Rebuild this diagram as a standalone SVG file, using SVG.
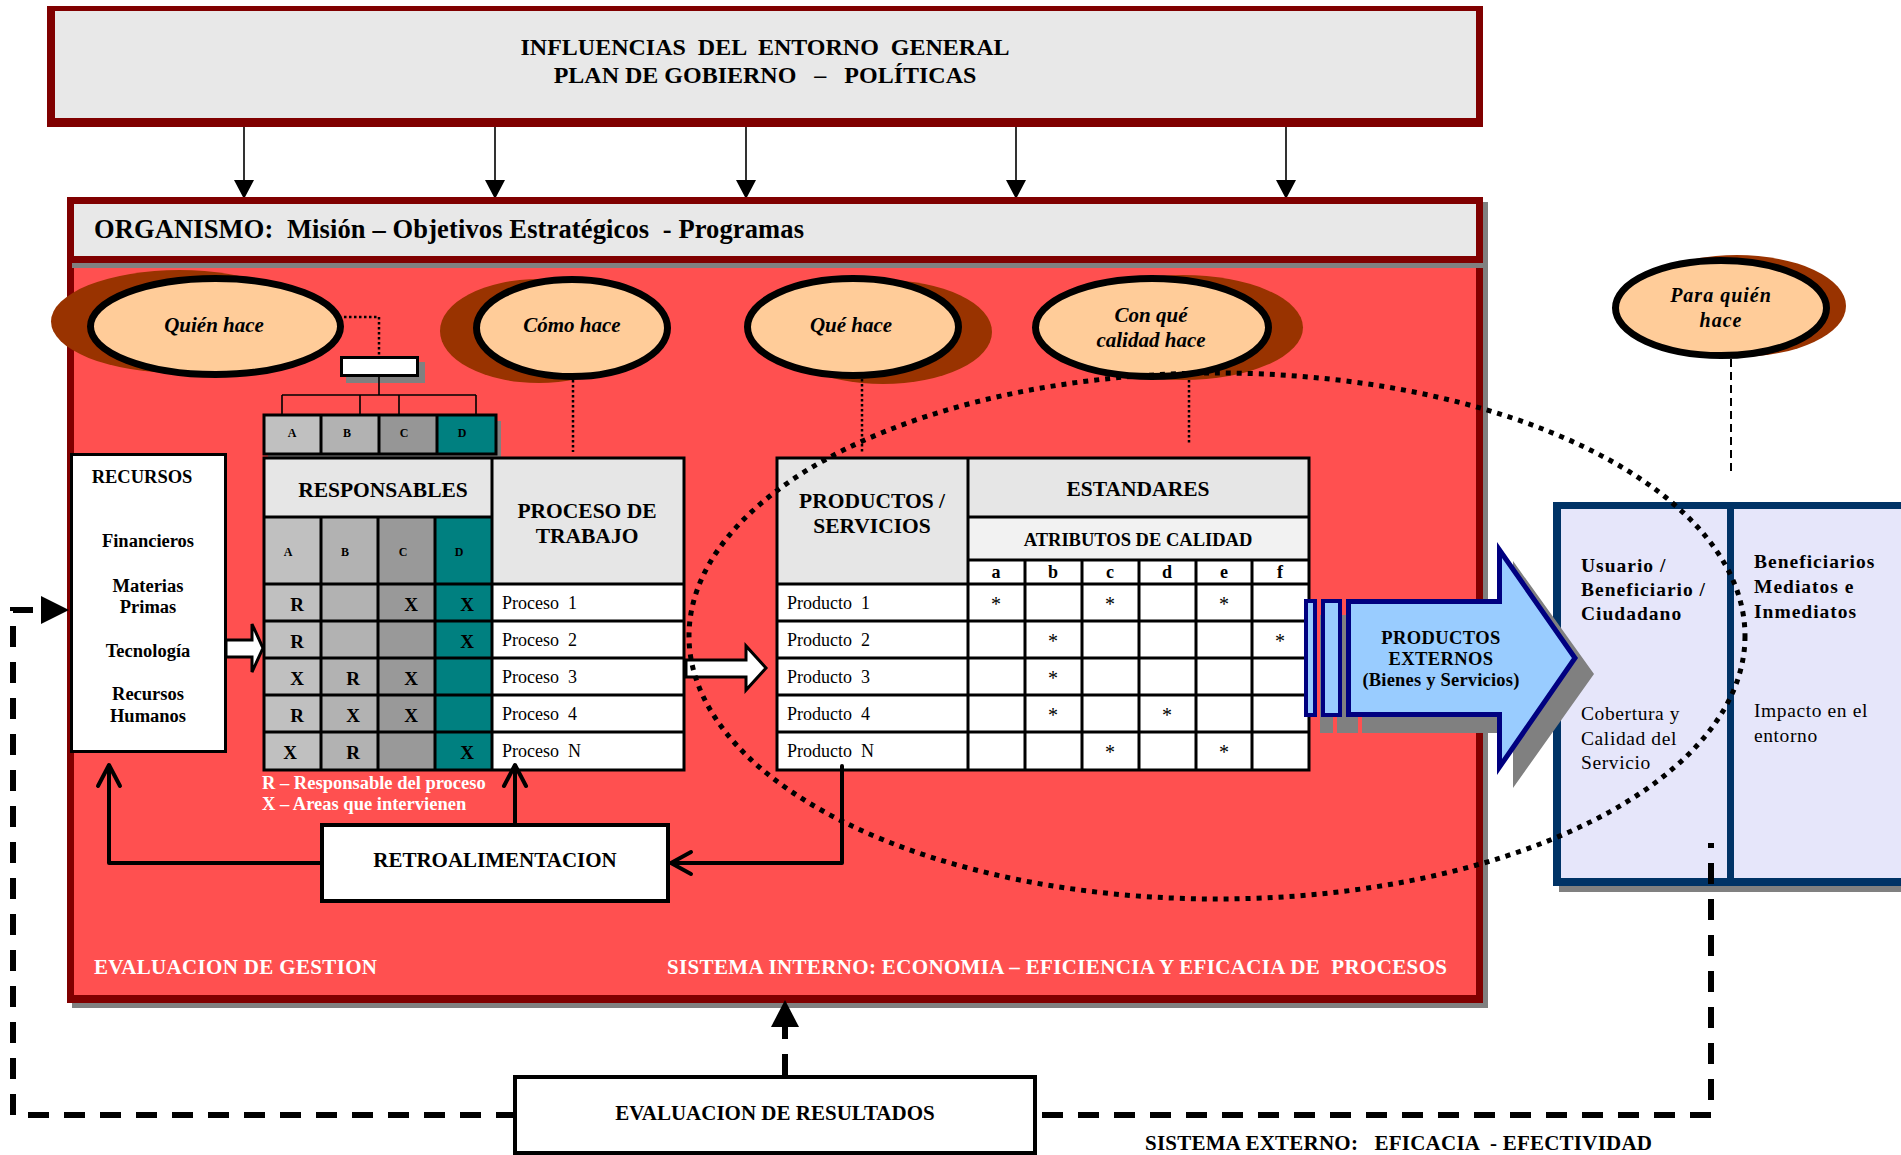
<svg xmlns="http://www.w3.org/2000/svg" width="1901" height="1155" viewBox="0 0 1901 1155">
<style>
  text { font-family: 'Liberation Serif', 'Times New Roman', serif; fill: #000; white-space: pre; }
  .b { font-weight: bold; }
  .bi { font-weight: bold; font-style: italic; }
  .mid { text-anchor: middle; }
  .wh { fill: #FFFFFF; }
  .grid { stroke: #000; stroke-width: 3; fill: none; }
  .thin { stroke: #000; stroke-width: 1.6; fill: none; }
  .dot { stroke: #000; stroke-width: 2.5; stroke-dasharray: 2.5 2.5; fill: none; }
  .fb { stroke: #000; stroke-width: 4; fill: none; stroke-linejoin: round; stroke-linecap: round; }
  .dash { stroke: #000; stroke-width: 6; stroke-dasharray: 21 15; fill: none; }
  .bubble { fill: #FFCC99; stroke: #000; stroke-width: 7; }
  .shade { fill: #993300; }
  .hdr { fill: #E6E6E6; }
  .cell { font-size: 19px; font-weight: bold; text-anchor: middle; }
  .row { font-size: 18px; }
  .star { font-size: 20px; text-anchor: middle; }
</style>

<!-- general environment banner -->
<g id="entorno">
  <rect x="47" y="6" width="1436" height="121" fill="#800000"/>
  <rect x="55" y="11" width="1421" height="107" fill="#E8E8E8"/>
  <text class="b mid" x="765" y="55" font-size="24">INFLUENCIAS  DEL  ENTORNO  GENERAL</text>
  <text class="b mid" x="765" y="83" font-size="24">PLAN DE GOBIERNO   –   POLÍTICAS</text>
</g>

<!-- influence arrows -->
<g id="influencias">
  <path class="thin" d="M244 127V182M495 127V182M746 127V182M1016 127V182M1286 127V182"/>
  <path fill="#000" d="M234 180H254L244 199ZM485 180H505L495 199ZM736 180H756L746 199ZM1006 180H1026L1016 199ZM1276 180H1296L1286 199Z"/>
</g>

<!-- organisation frame -->
<g id="organismo">
  <rect x="72" y="263" width="1416" height="745" fill="#808080"/>
  <rect x="67" y="258" width="1416" height="745" fill="#800000"/>
  <rect x="74" y="268" width="1402" height="727" fill="#FF5050"/>
  <rect x="72" y="202" width="1416" height="66" fill="#808080"/>
  <rect x="67" y="197" width="1416" height="66" fill="#800000"/>
  <rect x="74" y="204" width="1402" height="52" fill="#E8E8E8"/>
  <text class="b" x="94" y="238" font-size="26.5" textLength="710" lengthAdjust="spacing">ORGANISMO:  Misión – Objetivos Estratégicos  - Programas</text>
  <text class="b wh" x="94" y="974" font-size="21" textLength="283" lengthAdjust="spacing">EVALUACION DE GESTION</text>
  <text class="b wh" x="667" y="974" font-size="21" textLength="780" lengthAdjust="spacing">SISTEMA INTERNO: ECONOMIA – EFICIENCIA Y EFICACIA DE  PROCESOS</text>
</g>

<!-- question bubbles -->
<g id="quien-hace">
  <ellipse class="shade" cx="179.5" cy="321.5" rx="128.5" ry="51.5"/>
  <ellipse class="bubble" cx="215.5" cy="326.5" rx="125" ry="48"/>
  <text class="bi mid" x="214" y="332" font-size="21">Quién hace</text>
</g>
<g id="como-hace">
  <ellipse class="shade" cx="539" cy="331" rx="99" ry="52"/>
  <ellipse class="bubble" cx="572" cy="328" rx="95.5" ry="48.5"/>
  <text class="bi mid" x="572" y="332" font-size="21">Cómo hace</text>
</g>
<g id="que-hace">
  <ellipse class="shade" cx="883" cy="332" rx="109" ry="52"/>
  <ellipse class="bubble" cx="853" cy="327" rx="105.5" ry="48.5"/>
  <text class="bi mid" x="851" y="332" font-size="21">Qué hace</text>
</g>
<g id="con-que-calidad">
  <ellipse class="shade" cx="1183" cy="327.5" rx="120" ry="52.5"/>
  <ellipse class="bubble" cx="1152" cy="327.5" rx="116.5" ry="49"/>
  <text class="bi mid" x="1151" y="322" font-size="21">Con qué</text>
  <text class="bi mid" x="1151" y="347" font-size="21">calidad hace</text>
</g>
<g id="para-quien">
  <ellipse class="shade" cx="1737" cy="306" rx="109" ry="51"/>
  <ellipse class="bubble" cx="1721" cy="308" rx="105.5" ry="47.5"/>
  <text class="bi mid" x="1721" y="302" font-size="20" letter-spacing="1">Para quién</text>
  <text class="bi mid" x="1721" y="327" font-size="20" letter-spacing="1">hace</text>
</g>

<!-- organisation chart -->
<g id="organigrama">
  <rect x="346" y="362" width="79" height="21" fill="#808080"/>
  <rect x="341.5" y="357.5" width="76" height="18" fill="#FFFFFF" stroke="#000" stroke-width="3"/>
  <path class="thin" stroke-width="2" d="M379 377V395M282 395H476M282 395V415M360 395V415M399 395V415M476 395V415"/>
  <rect x="268" y="421" width="233" height="39" fill="#808080"/>
  <rect x="264" y="415" width="57" height="39" fill="#C0C0C0"/>
  <rect x="321" y="415" width="58" height="39" fill="#B2B2B2"/>
  <rect x="379" y="415" width="58" height="39" fill="#969696"/>
  <rect x="437" y="415" width="59" height="39" fill="#008080"/>
  <path class="grid" stroke-width="2" d="M264 415H496V454H264ZM321 415V454M379 415V454M437 415V454"/>
  <text class="b mid" x="292" y="437" font-size="12">A</text>
  <text class="b mid" x="347" y="437" font-size="12">B</text>
  <text class="b mid" x="404" y="437" font-size="12">C</text>
  <text class="b mid" x="462" y="437" font-size="12">D</text>
</g>

<!-- resources -->
<g id="recursos">
  <rect x="71.5" y="454.5" width="154" height="297" fill="#FFFFFF" stroke="#000" stroke-width="3"/>
  <text class="b mid" x="142" y="483" font-size="18.5">RECURSOS</text>
  <text class="b mid" x="148" y="547" font-size="18.5">Financieros</text>
  <text class="b mid" x="148" y="592" font-size="18.5">Materias</text>
  <text class="b mid" x="148" y="613" font-size="18.5">Primas</text>
  <text class="b mid" x="148" y="657" font-size="18.5">Tecnología</text>
  <text class="b mid" x="148" y="700" font-size="18.5">Recursos</text>
  <text class="b mid" x="148" y="722" font-size="18.5">Humanos</text>
</g>

<!-- responsibilities / work process table -->
<g id="responsables">
  <rect x="264" y="458" width="228" height="59" class="hdr"/>
  <rect x="492" y="458" width="192" height="126" class="hdr"/>
  <rect x="264" y="517" width="57" height="253" fill="#C0C0C0"/>
  <rect x="321" y="517" width="57" height="253" fill="#B2B2B2"/>
  <rect x="378" y="517" width="57" height="253" fill="#999999"/>
  <rect x="435" y="517" width="57" height="253" fill="#008080"/>
  <rect x="492" y="584" width="192" height="186" fill="#FFFFFF"/>
  <path class="grid" d="M264 458H684V770H264ZM264 517H492M264 584H684M264 621H684M264 658H684M264 695H684M264 732H684M321 517V770M378 517V770M435 517V770M492 458V770"/>
  <text class="b mid" x="383" y="497" font-size="21.5">RESPONSABLES</text>
  <text class="b mid" x="587" y="518" font-size="21.5">PROCESO DE</text>
  <text class="b mid" x="587" y="543" font-size="21.5">TRABAJO</text>
  <text class="b mid" x="288" y="556" font-size="12">A</text>
  <text class="b mid" x="345" y="556" font-size="12">B</text>
  <text class="b mid" x="403" y="556" font-size="12">C</text>
  <text class="b mid" x="459" y="556" font-size="12">D</text>
  <text class="cell" x="297" y="611">R</text><text class="cell" x="411" y="611">X</text><text class="cell" x="467" y="611">X</text>
  <text class="cell" x="297" y="648">R</text><text class="cell" x="467" y="648">X</text>
  <text class="cell" x="297" y="685">X</text><text class="cell" x="353" y="685">R</text><text class="cell" x="411" y="685">X</text>
  <text class="cell" x="297" y="722">R</text><text class="cell" x="353" y="722">X</text><text class="cell" x="411" y="722">X</text>
  <text class="cell" x="290" y="759">X</text><text class="cell" x="353" y="759">R</text><text class="cell" x="467" y="759">X</text>
  <text class="row" x="502" y="609">Proceso  1</text>
  <text class="row" x="502" y="646">Proceso  2</text>
  <text class="row" x="502" y="683">Proceso  3</text>
  <text class="row" x="502" y="720">Proceso  4</text>
  <text class="row" x="502" y="757">Proceso  N</text>
  <text class="b wh" x="262" y="789" font-size="18.5">R – Responsable del proceso</text>
  <text class="b wh" x="262" y="810" font-size="18.5">X – Areas que intervienen</text>
</g>

<!-- products / quality standards table -->
<g id="productos">
  <rect x="777" y="458" width="191" height="126" class="hdr"/>
  <rect x="968" y="458" width="341" height="59" class="hdr"/>
  <rect x="968" y="517" width="341" height="43" fill="#F2F2F2"/>
  <rect x="968" y="560" width="341" height="210" fill="#FFFFFF"/>
  <rect x="777" y="584" width="191" height="186" fill="#FFFFFF"/>
  <path class="grid" d="M777 458H1309V770H777ZM968 458V770M968 517H1309M968 560H1309M777 584H1309M777 621H1309M777 658H1309M777 695H1309M777 732H1309M1025 560V770M1082 560V770M1139 560V770M1196 560V770M1252 560V770"/>
  <text class="b mid" x="872" y="508" font-size="21.5">PRODUCTOS /</text>
  <text class="b mid" x="872" y="533" font-size="21.5">SERVICIOS</text>
  <text class="b mid" x="1138" y="496" font-size="21.5">ESTANDARES</text>
  <text class="b mid" x="1138" y="546" font-size="18.5">ATRIBUTOS DE CALIDAD</text>
  <text class="b mid" x="996" y="578" font-size="18">a</text>
  <text class="b mid" x="1053" y="578" font-size="18">b</text>
  <text class="b mid" x="1110" y="578" font-size="18">c</text>
  <text class="b mid" x="1167" y="578" font-size="18">d</text>
  <text class="b mid" x="1224" y="578" font-size="18">e</text>
  <text class="b mid" x="1280" y="578" font-size="18">f</text>
  <text class="row" x="787" y="609">Producto  1</text>
  <text class="row" x="787" y="646">Producto  2</text>
  <text class="row" x="787" y="683">Producto  3</text>
  <text class="row" x="787" y="720">Producto  4</text>
  <text class="row" x="787" y="757">Producto  N</text>
  <text class="star" x="996" y="611">*</text><text class="star" x="1110" y="611">*</text><text class="star" x="1224" y="611">*</text>
  <text class="star" x="1053" y="648">*</text><text class="star" x="1280" y="648">*</text>
  <text class="star" x="1053" y="685">*</text>
  <text class="star" x="1053" y="722">*</text><text class="star" x="1167" y="722">*</text>
  <text class="star" x="1110" y="759">*</text><text class="star" x="1224" y="759">*</text>
</g>

<!-- feedback box -->
<g id="retroalimentacion">
  <rect x="322" y="825" width="346" height="76" fill="#FFFFFF" stroke="#000" stroke-width="4"/>
  <text class="b mid" x="495" y="867" font-size="21">RETROALIMENTACION</text>
</g>

<!-- results evaluation box -->
<g id="evaluacion-resultados">
  <rect x="515" y="1077" width="520" height="76" fill="#FFFFFF" stroke="#000" stroke-width="4"/>
  <text class="b mid" x="775" y="1120" font-size="21">EVALUACION DE RESULTADOS</text>
</g>

<!-- beneficiaries -->
<g id="beneficiarios">
  <rect x="1559" y="508" width="360" height="384" fill="#808080"/>
  <rect x="1553" y="502" width="360" height="384" fill="#003366"/>
  <rect x="1561" y="509" width="166" height="369" fill="#E6E6FA"/>
  <rect x="1734" y="509" width="180" height="369" fill="#E6E6FA"/>
  <text class="b" x="1581" y="572" font-size="19.5" letter-spacing="1">Usuario /</text>
  <text class="b" x="1581" y="596" font-size="19.5" letter-spacing="1">Beneficiario /</text>
  <text class="b" x="1581" y="620" font-size="19.5" letter-spacing="1">Ciudadano</text>
  <text x="1581" y="720" font-size="19.5" letter-spacing="0.6">Cobertura y</text>
  <text x="1581" y="745" font-size="19.5" letter-spacing="0.6">Calidad del</text>
  <text x="1581" y="769" font-size="19.5" letter-spacing="0.6">Servicio</text>
  <text class="b" x="1754" y="568" font-size="19.5" letter-spacing="1">Beneficiarios</text>
  <text class="b" x="1754" y="593" font-size="19.5" letter-spacing="1">Mediatos e</text>
  <text class="b" x="1754" y="618" font-size="19.5" letter-spacing="1">Inmediatos</text>
  <text x="1754" y="717" font-size="19.5" letter-spacing="0.6">Impacto en el</text>
  <text x="1754" y="742" font-size="19.5" letter-spacing="0.6">entorno</text>
</g>

<!-- external products arrow -->
<g id="productos-externos">
  <rect x="1320" y="615" width="13" height="118" fill="#808080"/>
  <rect x="1337" y="615" width="21" height="118" fill="#808080"/>
  <polygon fill="#808080" points="1362,615 1513,615 1513,561 1594,674 1513,788 1513,733 1362,733"/>
  <rect x="1306" y="601" width="9" height="114" fill="#99CCFF" stroke="#000080" stroke-width="4"/>
  <rect x="1323" y="601" width="17" height="114" fill="#99CCFF" stroke="#000080" stroke-width="4"/>
  <polygon fill="#99CCFF" stroke="#000080" stroke-width="5" points="1348.5,601.5 1499.5,601.5 1499.5,550 1575,658 1499.5,767 1499.5,714.5 1348.5,714.5"/>
  <text class="b mid" x="1441" y="644" font-size="18.5" letter-spacing="0.4">PRODUCTOS</text>
  <text class="b mid" x="1441" y="665" font-size="18.5" letter-spacing="0.4">EXTERNOS</text>
  <text class="b mid" x="1441" y="686" font-size="18.5" letter-spacing="0.2">(Bienes y Servicios)</text>
</g>

<!-- system label -->
<g id="sistema-externo">
  <text class="b" x="1145" y="1150" font-size="21" textLength="507" lengthAdjust="spacing">SISTEMA EXTERNO:   EFICACIA  - EFECTIVIDAD</text>
</g>

<!-- connectors -->
<g id="conectores">
  <!-- dotted links from the question bubbles -->
  <path class="dot" d="M344 317H379V356"/>
  <path class="dot" d="M573 380V452"/>
  <path class="dot" d="M862 379V452"/>
  <path class="dot" d="M1189 380V445"/>
  <path stroke="#000" stroke-width="2" stroke-dasharray="8 5" fill="none" d="M1731 359V474"/>
  <!-- block arrows -->
  <polygon fill="#FFFFFF" stroke="#000" stroke-width="3" points="226,640 252,640 252,624 263,648 252,672 252,657 226,657"/>
  <polygon fill="#FFFFFF" stroke="#000" stroke-width="3" points="686,660 746,660 746,646 766,668 746,690 746,677 686,677"/>
  <!-- feedback loop -->
  <path class="fb" d="M320 863H109V766"/>
  <polyline class="fb" points="98,786 109,765 120,786"/>
  <path class="fb" d="M515 823V766"/>
  <polyline class="fb" points="504,786 515,765 526,786"/>
  <path class="fb" d="M842 766V863H672"/>
  <polyline class="fb" points="691,852 671,863 691,874"/>
  <!-- results evaluation loop -->
  <path class="dash" d="M785 1075V1027" stroke-dasharray="19 12"/>
  <polygon fill="#000" points="771,1027 799,1027 785,1000"/>
  <path class="dash" d="M513 1115H13V610H41" stroke-dashoffset="4"/>
  <polygon fill="#000" points="41,596 69,610 41,624"/>
  <path class="dash" d="M1042 1115H1711V843"/>
</g>

<!-- boundary of the internal system -->
<g id="limite-sistema">
  <ellipse cx="1217" cy="636" rx="528" ry="263" fill="none" stroke="#000" stroke-width="5" stroke-dasharray="5 6"/>
</g>
</svg>
